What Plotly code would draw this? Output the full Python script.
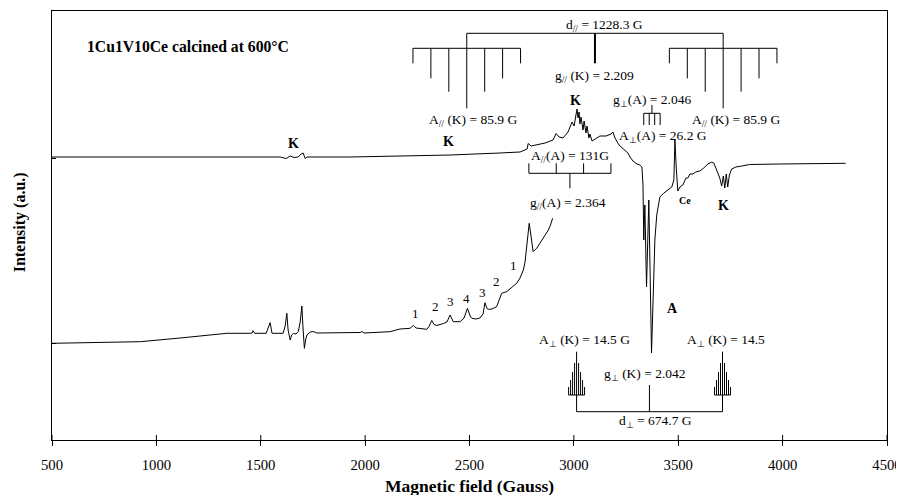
import plotly.graph_objects as go

# ---------------- data ----------------
# Upper spectrum (calcined at 600 C) : magnetic field (G) and intensity (a.u.)
top_field = [500, 971, 1449, 1593, 1622, 1641, 1660, 1679, 1693, 1703, 1713, 1722, 1928, 2167, 2407,
             2646, 2742, 2776, 2781, 2795, 2862, 2900, 2915, 2929, 2948, 2972, 2991, 3001, 3010, 3015,
             3020, 3025, 3029, 3034, 3044, 3049, 3058, 3063, 3072, 3077, 3087, 3101, 3125, 3154, 3178,
             3187, 3197, 3216, 3240, 3259, 3269, 3283, 3302, 3316, 3326, 3331, 3335, 3340, 3348, 3359,
             3372, 3378, 3388, 3397, 3412, 3431, 3445, 3469, 3479, 3484, 3491, 3498, 3508, 3522, 3537,
             3546, 3556, 3570, 3584, 3603, 3622, 3642, 3661, 3670, 3680, 3689, 3699, 3708, 3716, 3723,
             3730, 3737, 3745, 3756, 3776, 3804, 3842, 3986, 4130, 4302]
top_int = [283, 283, 283, 283, 281.5, 284, 282.5, 283, 286, 287, 281.5, 283, 283, 284, 285,
           287, 288, 291, 296.5, 294, 297, 300, 306.5, 303, 302, 308, 318, 314, 326, 331,
           322, 328, 316, 323, 310, 319, 307, 314, 302, 306, 299, 301, 304, 304, 306,
           308, 302, 295, 290, 287, 283, 279, 276, 275, 273, 255, 200, 235, 153, 240,
           87, 140, 200, 225, 243, 247, 249, 253, 260, 300, 270, 249, 253, 255, 262,
           262, 266, 266, 268, 269, 272, 276, 278, 277, 272, 268, 262, 254, 264, 252,
           266, 253, 265, 271, 273, 274, 275.5, 276, 276.5, 276.7]

# Lower spectrum
low_field = [500, 731, 923, 1114, 1242, 1338, 1449, 1459, 1463, 1471, 1526, 1535, 1545, 1554, 1607,
             1617, 1625, 1631, 1641, 1648, 1657, 1669, 1680, 1689, 1697, 1703, 1709, 1715, 1721, 1737,
             1752, 1769, 1880, 1976, 1985, 1995, 2119, 2167, 2215, 2231, 2244, 2263, 2295, 2306, 2319,
             2330, 2343, 2375, 2392, 2407, 2416, 2422, 2455, 2474, 2490, 2503, 2511, 2531, 2550, 2565,
             2574, 2584, 2590, 2608, 2630, 2641, 2654, 2665, 2678, 2699, 2726, 2742, 2758, 2766, 2771,
             2778, 2786, 2794, 2805, 2813, 2822, 2838, 2854, 2867, 2878, 2888, 2898]
low_int = [96.7, 97.5, 98.3, 102, 105, 106.7, 106.7, 107, 109.3, 106.7, 106.7, 111, 117.3, 106.7, 106.7,
           114, 126.7, 110, 100, 105, 106.5, 106, 108.5, 118, 134, 110, 91.7, 100, 105, 108,
           108.5, 107, 107, 107.5, 108.5, 107, 108.3, 111, 111.7, 114.5, 112, 111.3, 110.7, 113.5, 119.5,
           115.5, 114.5, 116.5, 118, 125, 120, 118.3, 118.3, 122, 131.7, 124, 121.7, 121, 122, 126,
           137.3, 131.5, 130.7, 131, 133.3, 140, 146.7, 147.5, 148.3, 152, 156.7, 162, 170, 178, 186.7,
           202, 216.7, 205, 188.3, 190, 191.7, 197, 201.7, 206, 210, 215, 221.7]

x_ticks = [500, 1000, 1500, 2000, 2500, 3000, 3500, 4000, 4500]
y_ticks = [97, 282]

# EPR parameters used for the stick diagrams
g_par_K_field = 3101.0
d_par = 1228.3
A_par_K = 85.9
g_perp_A_field = 3374.0
A_perp_A = 26.2
g_par_A_field = 2981.0
A_par_A = 131.0
perp_K_centers = [3013.0, 3712.0]
g_perp_K_field = 3362.0
A_perp_K = 14.5

FONT = "Liberation Serif"
BLACK = "#000000"

fig = go.Figure()

fig.add_trace(go.Scatter(x=top_field, y=top_int, mode="lines",
                         line=dict(color=BLACK, width=1), hoverinfo="skip"))
fig.add_trace(go.Scatter(x=low_field, y=low_int, mode="lines",
                         line=dict(color=BLACK, width=1), hoverinfo="skip"))


def seg_trace(xs, ys, width=1):
    fig.add_trace(go.Scatter(x=xs, y=ys, mode="lines", line=dict(color=BLACK, width=width),
                             hoverinfo="skip", connectgaps=False))


# ---- parallel K hyperfine combs (7 lines shown) ----
xs, ys = [], []
comb_top = 391.7
tick_ends = {0: 331.7, 1: 348.3, 2: 361.7, 3: 376.7}
for c in (g_par_K_field - d_par / 2, g_par_K_field + d_par / 2):
    xs += [c - 3 * A_par_K, c + 3 * A_par_K, None]
    ys += [comb_top, comb_top, None]
    for k in range(-3, 4):
        xx = c + k * A_par_K
        xs += [xx, xx, None]
        ys += [comb_top, tick_ends[abs(k)], None]
    xs += [c, c, None]
    ys += [406.7, comb_top, None]
xs += [g_par_K_field - d_par / 2, g_par_K_field + d_par / 2, None]
ys += [406.7, 406.7, None]
seg_trace(xs, ys)
seg_trace([g_par_K_field, g_par_K_field], [406.7, 376.7], width=2)

# ---- perpendicular A (4 lines) ----
xs, ys = [g_perp_A_field, g_perp_A_field, None], [335, 326.7, None]
xs += [g_perp_A_field - 1.5 * A_perp_A, g_perp_A_field + 1.5 * A_perp_A, None]
ys += [326.7, 326.7, None]
for k in (-1.5, -0.5, 0.5, 1.5):
    xx = g_perp_A_field + k * A_perp_A
    xs += [xx, xx, None]
    ys += [326.7, 315, None]
seg_trace(xs, ys)

# ---- parallel A (4 lines) ----
xs, ys = [g_par_A_field, g_par_A_field, None], [266.7, 251.7, None]
xs += [g_par_A_field - 1.5 * A_par_A, g_par_A_field + 1.5 * A_par_A, None]
ys += [266.7, 266.7, None]
for k in (-1.5, -0.5, 0.5, 1.5):
    xx = g_par_A_field + k * A_par_A
    xs += [xx, xx, None]
    ys += [266.7, 276.7, None]
seg_trace(xs, ys)

# ---- perpendicular K stick patterns ----
stick_idx = [-4, -3, -2, -1, 0, 1, 2, 3, 4]
stick_tops = [53, 60, 68, 77, 88.3, 77, 68, 60, 53]
stick_sp = A_perp_K * 0.66
xs, ys = [], []
for c in perp_K_centers:
    xs += [c + stick_idx[0] * stick_sp, c + stick_idx[-1] * stick_sp, None]
    ys += [45, 45, None]
    for k, t in zip(stick_idx, stick_tops):
        xx = c + k * stick_sp
        xs += [xx, xx, None]
        ys += [45, t, None]
    xs += [c, c, None]
    ys += [45, 28.3, None]
xs += [perp_K_centers[0], perp_K_centers[1], None]
ys += [28.3, 28.3, None]
xs += [g_perp_K_field, g_perp_K_field, None]
ys += [28.3, 55, None]
seg_trace(xs, ys)

# ---------------- annotations ----------------
def txt(x, y, s, size=13.5, bold=False, xanchor="center"):
    if bold:
        s = "<b>" + s + "</b>"
    fig.add_annotation(x=x, y=y, text=s, showarrow=False, xanchor=xanchor, yanchor="middle",
                       font=dict(family=FONT, size=size, color=BLACK))

txt(659, 393.3, "1Cu1V10Ce calcined at 600°C", size=15.7, bold=True, xanchor="left")
txt(3149, 415, "d<sub>//</sub> = 1228.3 G")
txt(3101, 363.3, "g<sub>//</sub> (K) = 2.209")
txt(2518, 320, "A<sub>//</sub> (K) = 85.9 G")
txt(3779, 320, "A<sub>//</sub> (K) = 85.9 G")
txt(3372, 340, "g<sub>⊥</sub>(A) = 2.046")
txt(3428, 303.3, "A<sub>⊥</sub>(A) = 26.2 G")
txt(2981, 283.3, "A<sub>//</sub>(A) = 131G")
txt(2973, 236.7, "g<sub>//</sub>(A) = 2.364")
txt(3053, 100, "A<sub>⊥</sub> (K) = 14.5 G")
txt(3731, 100, "A<sub>⊥</sub> (K) = 14.5")
txt(3340, 66, "g<sub>⊥</sub> (K) = 2.042")
txt(3393, 18.3, "d<sub>⊥</sub> = 674.7 G")

txt(1657, 296.7, "K", size=14, bold=True)
txt(2397, 299, "K", size=14, bold=True)
txt(3010, 340, "K", size=14, bold=True)
txt(3718, 235, "K", size=14, bold=True)
txt(3474, 132, "A", size=14, bold=True)
txt(3531, 240, "Ce", size=10, bold=True)

num_labels = ["1", "2", "3", "4", "3", "2", "1"]
num_x = [2239, 2335, 2407, 2487, 2561, 2630, 2710]
num_y = [127, 133.3, 138.3, 141.7, 147.3, 158.3, 174.3]
for s, xx, yy in zip(num_labels, num_x, num_y):
    txt(xx, yy, s, size=13)

# axis titles
fig.add_annotation(xref="paper", yref="paper", x=0.5, y=-0.107, text="<b>Magnetic field (Gauss)</b>",
                   showarrow=False, xanchor="center", yanchor="middle",
                   font=dict(family=FONT, size=17.5, color=BLACK))
fig.add_annotation(xref="paper", yref="paper", x=-0.038, y=0.508, text="<b>Intensity (a.u.)</b>",
                   showarrow=False, textangle=-90, xanchor="center", yanchor="middle",
                   font=dict(family=FONT, size=16, color=BLACK))

# inside half of the crossing x ticks
for tv in x_ticks:
    fig.add_shape(type="line", x0=tv, x1=tv, y0=0, y1=5, xref="x", yref="y",
                  line=dict(color=BLACK, width=1))

# the page body has an 8 px margin; offsets are compensated in the margins
fig.update_layout(
    width=904, height=487,
    margin=dict(l=44, r=25, t=3, b=55),
    paper_bgcolor="white", plot_bgcolor="white",
    showlegend=False,
    xaxis=dict(range=[500, 4500], tickvals=x_ticks, ticktext=[str(v) for v in x_ticks],
               ticks="outside", ticklen=5, tickcolor=BLACK, tickwidth=1,
               showline=True, linecolor=BLACK, linewidth=1, mirror=True,
               showgrid=False, zeroline=False, ticklabelstandoff=6,
               ticklabeloverflow="allow",
               tickfont=dict(family=FONT, size=14.7, color=BLACK)),
    yaxis=dict(range=[0, 429], tickvals=y_ticks, showticklabels=False,
               ticks="inside", ticklen=4, tickcolor=BLACK, tickwidth=1,
               showline=True, linecolor=BLACK, linewidth=1, mirror=True,
               showgrid=False, zeroline=False),
)

fig.write_html("out.html")
